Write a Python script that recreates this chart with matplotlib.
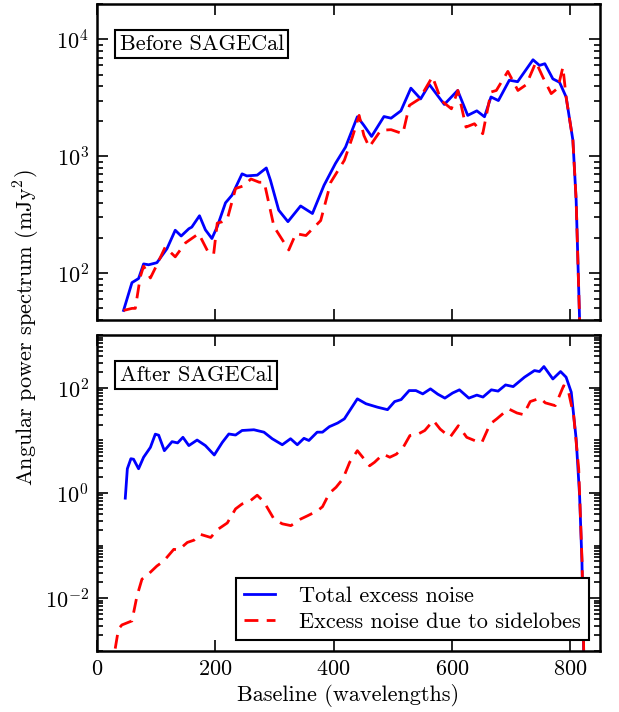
import numpy as np
import matplotlib
matplotlib.use("Agg")
import matplotlib.pyplot as plt

plt.rcParams['font.family'] = 'serif'
plt.rcParams['font.serif'] = ['cmr10']
plt.rcParams['mathtext.fontset'] = 'cm'
plt.rcParams['axes.formatter.use_mathtext'] = True
plt.rcParams['font.size'] = 16

# --- top panel: before SAGECal ---
x_tot_before = [44.6, 58.8, 70, 78.5, 87, 101, 118, 132, 142, 155, 160, 173, 183, 194, 203,
                217, 228, 245, 253, 270.6, 286, 293, 307, 322.6, 344, 364, 383.6, 403, 420,
                440, 451, 464, 485, 497, 513.6, 530.5, 547, 561.6, 587, 609.6, 626.6, 642,
                655, 666, 678.5, 697, 711, 737, 748, 757, 770.6, 781.9, 793, 804.5, 810,
                815.8, 820]
y_tot_before = [48, 83, 90, 120, 118, 123, 162, 233, 208, 240, 248, 310, 235, 198, 250,
                400, 465, 708, 680, 690, 795, 624, 346, 276, 376, 324, 565, 870, 1200,
                2180, 1840, 1480, 2190, 2120, 2450, 3830, 3100, 4120, 2780, 3660, 2240, 2450,
                2180, 3220, 3000, 4480, 4350, 6700, 6000, 6200, 4600, 4300, 3220, 1370, 420,
                40, 5]
x_side_before = [44.6, 59, 64.5, 72.9, 78.5, 90, 101, 115, 132, 149.5, 171.7, 188.7, 197,
                 203, 211, 220, 234, 248, 260, 274, 282.5, 299, 324, 336, 353, 378, 395,
                 418, 431.6, 443, 451, 460, 479.6, 497, 516.9, 528, 545, 567, 581.9, 599,
                 610, 623.7, 638, 652, 666, 675, 694.5, 711.5, 725.6, 742, 753.7, 767.8,
                 779, 787.6, 793, 804.5, 810, 815.8, 820]
y_side_before = [48, 50, 50, 93, 115, 91, 118, 167, 138, 182, 218, 148, 146,
                 268, 275, 290, 530, 560, 640, 600, 600, 250, 158, 218, 210, 282, 600,
                 925, 1460, 2240, 1510, 1200, 1670, 1690, 1560, 2730, 3100, 4800, 3000, 2550,
                 3660, 1780, 1900, 1560, 3550, 3660, 5330, 3660, 4100, 6400, 4760, 3440,
                 3830, 5800, 3220, 1370, 420, 40, 5]

# --- bottom panel: after SAGECal ---
x_tot_after = [47.5, 51, 57, 61.5, 70, 78.5, 90, 98.3, 104, 113.6, 126.6, 136, 145, 155,
               169, 183, 198, 211.6, 222.6, 234, 245, 265, 282, 296, 313, 327, 338.4,
               349.7, 358, 372, 381, 392.6, 406.7, 418, 440, 454.6, 474, 491, 503, 514,
               527.6, 539, 550.6, 563.6, 576, 588, 601, 612.6, 628.5, 642, 652.4, 666.6,
               678, 690.6, 703.5, 722.6, 739.5, 748, 755.5, 770.6, 783.6, 793, 801.7, 810,
               815.8, 819.8, 824.4]
y_tot_after = [0.80, 2.9, 4.5, 4.4, 2.9, 4.8, 7.4, 13.2, 12.6, 6.4, 9.5, 9, 11.5, 8,
               10.2, 8, 5.3, 9.2, 13.3, 12.7, 15.5, 16, 14.4, 10.8, 8.3, 10.8, 8.3,
               11, 10, 14.4, 14.4, 18.3, 21.5, 25.8, 62, 50, 43, 38.6, 55, 60,
               89, 89, 77, 96, 76, 64, 80, 92, 64, 73, 67, 92,
               87, 114, 106, 160, 214, 205, 255, 148, 205, 160, 83, 10.7,
               0.9, 0.049, 1e-4]
x_side_after = [30.5, 36, 41.8, 58.8, 67.3, 75.7, 87, 101, 112.6, 129.5, 138, 152.4, 163.7,
                173.7, 192, 203, 220, 234, 245, 256.6, 270.6, 282, 299, 313, 327.6, 344,
                355.8, 372.6, 381, 392.6, 404, 415.6, 427, 440, 449, 460.7, 469, 483.6,
                494.9, 506, 517.5, 528.8, 543, 554, 568.5, 580, 596.6, 610.8, 624.9, 639,
                650.4, 664.5, 675.8, 695.6, 709.8, 721, 732.3, 749.3, 757.8, 774.7, 788.8,
                796, 805.8, 814.3, 820, 824.4]
y_side_after = [0.0011, 0.0026, 0.0031, 0.0037, 0.011, 0.023, 0.029, 0.041, 0.051, 0.085,
                0.083, 0.115, 0.127, 0.165, 0.143, 0.2, 0.27, 0.50, 0.62, 0.68, 0.91, 0.68,
                0.32, 0.26, 0.24, 0.32, 0.37, 0.46, 0.55, 0.99, 1.29, 1.87, 3.85, 6.4, 4.8,
                3.3, 3.85, 5.5, 4.8, 5.5, 7.4, 12.4, 13.3, 15.5, 24, 16.5, 11.5, 19.1, 11.5,
                9.9, 9.1, 20.6, 25.8, 40, 33.4, 31, 55, 64, 52, 46, 110, 96, 29.6, 2.9,
                0.049, 1e-4]

fig = plt.figure(figsize=(6.19, 7.12), dpi=100)
ax1 = fig.add_axes([0.157, 0.551, 0.812, 0.443])
ax2 = fig.add_axes([0.157, 0.086, 0.812, 0.443])

for ax in (ax1, ax2):
    ax.set_yscale('log')
    ax.set_xlim(0, 850)
    ax.tick_params(which='both', direction='in', top=True, right=True, width=1.2)
    ax.tick_params(which='major', length=8, pad=6)
    ax.tick_params(which='minor', length=4)
    for s in ax.spines.values():
        s.set_linewidth(1.8)
    ax.set_xticks([0, 200, 400, 600, 800])

ax1.plot(x_tot_before, y_tot_before, color='blue', lw=2)
ax1.plot(x_side_before, y_side_before, color='red', lw=2, ls='--', dashes=(5, 3))
ax1.set_ylim(40, 2e4)
ax1.set_xticklabels([])
ax1.text(0.045, 0.905, 'Before SAGECal', transform=ax1.transAxes, va='top', ha='left',
         bbox=dict(boxstyle='square,pad=0.2', fc='white', ec='black', lw=1.5))

ax2.plot(x_tot_after, y_tot_after, color='blue', lw=2, label='Total excess noise')
ax2.plot(x_side_after, y_side_after, color='red', lw=2, ls='--', dashes=(5, 3),
         label='Excess noise due to sidelobes')
ax2.set_ylim(1e-3, 1e3)
ax2.set_yticks([1e-2, 1e0, 1e2])
ax2.yaxis.set_minor_locator(matplotlib.ticker.LogLocator(base=10, subs=np.arange(1, 10)))
ax2.yaxis.set_minor_formatter(matplotlib.ticker.NullFormatter())
ax2.text(0.045, 0.905, 'After SAGECal', transform=ax2.transAxes, va='top', ha='left',
         bbox=dict(boxstyle='square,pad=0.2', fc='white', ec='black', lw=1.5))
leg = ax2.legend(loc='lower right', fancybox=False, edgecolor='black', framealpha=1,
                 handlelength=1.4, handletextpad=1.1, borderaxespad=0.5,
                 borderpad=0.35, labelspacing=0.3)
leg.get_frame().set_linewidth(1.5)

ax2.set_xlabel('Baseline (wavelengths)')
fig.text(0.043, 0.54, r'Angular power spectrum (mJy$^2$)', rotation=90, va='center', ha='center')

fig.savefig('out.png', dpi=100)
